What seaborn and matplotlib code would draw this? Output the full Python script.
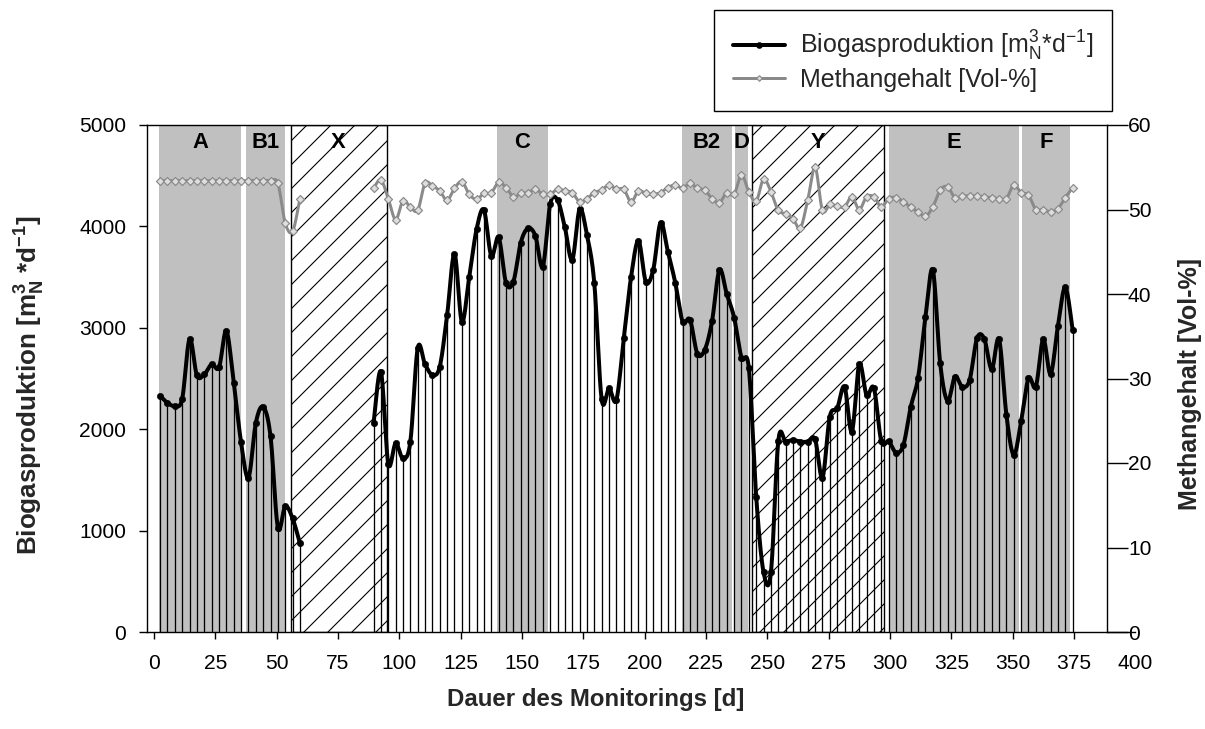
import numpy as np
import pandas as pd
import matplotlib
matplotlib.use("Agg")
import matplotlib.pyplot as plt
import matplotlib.transforms as mtransforms
from matplotlib.lines import Line2D
import seaborn as sns

# ---------------- data ----------------
# segment 1 (before interruption X)
days_1 = [2.5, 5.5, 8.5, 11.5, 14.5, 17.5, 20.5, 23.5, 26.5, 29.5,
          32.5, 35.5, 38.5, 41.5, 44.5, 47.5, 50.5, 53.5, 56.5, 59.5]
biogas_1 = [2330, 2260, 2230, 2300, 2890, 2530, 2540, 2640, 2610, 2970,
            2460, 1870, 1520, 2060, 2220, 1930, 1030, 1240, 1120, 875]
methane_1 = [53.4, 53.4, 53.4, 53.4, 53.4, 53.4, 53.4, 53.4, 53.4, 53.4,
             53.4, 53.4, 53.4, 53.4, 53.4, 53.4, 53.1, 48.4, 47.4, 51.3]

# segment 2 (after interruption X)
days_2 = [89.5, 92.5, 95.5, 98.5, 101.5, 104.5, 107.5, 110.5, 113.5, 116.5,
          119.5, 122.5, 125.5, 128.5, 131.5, 134.5, 137.5, 140.5, 143.5, 146.5,
          149.5, 152.5, 155.5, 158.5, 161.5, 164.5, 167.5, 170.5, 173.5, 176.5,
          179.5, 182.5, 185.5, 188.5, 191.5, 194.5, 197.5, 200.5, 203.5, 206.5,
          209.5, 212.5, 215.5, 218.5, 221.5, 224.5, 227.5, 230.5, 233.5, 236.5,
          239.5, 242.5, 245.5, 248.5, 251.5, 254.5, 257.5, 260.5, 263.5, 266.5,
          269.5, 272.5, 275.5, 278.5, 281.5, 284.5, 287.5, 290.5, 293.5, 296.5,
          299.5, 302.5, 305.5, 308.5, 311.5, 314.5, 317.5, 320.5, 323.5, 326.5,
          329.5, 332.5, 335.5, 338.5, 341.5, 344.5, 347.5, 350.5, 353.5, 356.5,
          359.5, 362.5, 365.5, 368.5, 371.5, 374.5]
biogas_2 = [2058, 2567, 1660, 1861, 1713, 1877, 2798, 2640, 2535, 2617,
            3126, 3728, 3061, 3498, 3971, 4162, 3708, 3893, 3445, 3455,
            3839, 3981, 3905, 3603, 4220, 4260, 3991, 3669, 4169, 3915,
            3439, 2295, 2403, 2288, 2896, 3504, 3859, 3455, 3570, 4036,
            3750, 3445, 3061, 3080, 2745, 2781, 3067, 3570, 3333, 3100,
            2705, 2600, 1334, 589, 589, 1884, 1877, 1893, 1877, 1877,
            1900, 1522, 2124, 2206, 2419, 1975, 2640, 2337, 2403, 1880,
            1880, 1770, 1844, 2220, 2508, 3110, 3570, 2650, 2278, 2518,
            2419, 2485, 2896, 2890, 2591, 2887, 2140, 1746, 2081, 2502,
            2419, 2887, 2544, 3018, 3400, 2978]
methane_2 = [52.5, 53.5, 51.3, 48.8, 51.0, 50.3, 49.9, 53.1, 52.8, 52.2,
             51.1, 52.5, 53.3, 51.8, 51.2, 51.9, 52.0, 53.2, 52.6, 51.5,
             51.9, 52.0, 52.4, 51.8, 51.8, 52.4, 52.2, 52.0, 50.9, 51.3,
             52.0, 52.3, 52.9, 52.4, 52.4, 50.9, 52.2, 51.9, 51.8, 52.0,
             52.6, 52.9, 52.5, 53.1, 52.5, 52.3, 51.3, 50.8, 52.0, 51.8,
             54.1, 52.1, 51.0, 53.6, 52.1, 49.9, 49.5, 48.9, 47.8, 51.1,
             55.0, 49.9, 50.6, 50.4, 50.3, 51.5, 50.0, 51.5, 51.5, 50.3,
             51.3, 51.4, 50.9, 50.3, 49.7, 49.2, 50.3, 52.3, 52.7, 51.4,
             51.6, 51.6, 51.6, 51.5, 51.4, 51.3, 51.3, 52.9, 52.0, 51.7,
             50.0, 50.0, 49.7, 50.1, 51.4, 52.6]

# phases (start day, end day)
gray_labels = ["A", "B1", "C", "B2", "D", "E", "F"]
gray_start = [2.0, 37.5, 139.7, 215.1, 236.9, 299.8, 353.7]
gray_end = [35.5, 53.5, 160.7, 235.5, 242.3, 352.6, 373.4]
hatch_labels = ["X", "Y"]
hatch_start = [55.7, 243.7]
hatch_end = [94.8, 297.6]

x_ticks = [0, 25, 50, 75, 100, 125, 150, 175, 200, 225, 250, 275, 300, 325, 350, 375, 400]
y_ticks_left = [0, 1000, 2000, 3000, 4000, 5000]
y_ticks_right = [0, 10, 20, 30, 40, 50, 60]

label_bio = "Biogasproduktion [m$^{3}_{N}$*d$^{-1}$]"
label_ch4 = "Methangehalt [Vol-%]"


def bezier_smooth(xs, ys, n=18):
    """Excel-like smoothed line (cubic Bezier through all points)."""
    P = np.column_stack([np.asarray(xs, float), np.asarray(ys, float)])
    Pe = np.vstack([P[0], P, P[-1]])
    t = np.linspace(0, 1, n)[:, None]
    out = []
    for i in range(len(P) - 1):
        p0, p1, p2, p3 = Pe[i], Pe[i + 1], Pe[i + 2], Pe[i + 3]
        c1 = p1 + (p2 - p0) / 6.0
        c2 = p2 - (p3 - p1) / 6.0
        seg = ((1 - t) ** 3) * p1 + 3 * ((1 - t) ** 2) * t * c1 + 3 * (1 - t) * t ** 2 * c2 + t ** 3 * p2
        out.append(seg if i == 0 else seg[1:])
    a = np.vstack(out)
    return a[:, 0], a[:, 1]


# ---------------- style ----------------
sns.set_theme(style="ticks")
plt.rcParams["font.family"] = ["Liberation Sans", "DejaVu Sans"]
plt.rcParams["mathtext.fontset"] = "custom"
plt.rcParams["mathtext.rm"] = "Liberation Sans"
plt.rcParams["mathtext.it"] = "Liberation Sans:italic"
plt.rcParams["mathtext.bf"] = "Liberation Sans:bold"
plt.rcParams["mathtext.default"] = "regular"
plt.rcParams["hatch.linewidth"] = 0.55
plt.rcParams["axes.unicode_minus"] = False

DPI = 144
W, H = 1205, 729
fig = plt.figure(figsize=(W / DPI, H / DPI), dpi=DPI)
fig.patch.set_facecolor("white")

x0_px, x1_px = 147, 1135.2
y_top_px, y_bot_px = 125, 632
ax = fig.add_axes([x0_px / W, (H - y_bot_px) / H, (x1_px - x0_px) / W, (y_bot_px - y_top_px) / H])
XMIN, XMAX, XR = -2.85, 400, 388.5
ax.set_xlim(XMIN, XMAX)
ax.set_ylim(0, 5000)

GRAY = "#c0c0c0"
LINEGRAY = "#8a8a8a"
TICK_FS = 10.5

# phase shading
for s, e in zip(gray_start, gray_end):
    ax.axvspan(s, e, facecolor=GRAY, edgecolor="none", lw=0, zorder=0.5)
for s, e in zip(hatch_start, hatch_end):
    ax.axvspan(s, e, facecolor="white", edgecolor="black", hatch="//", lw=0.7, zorder=0.6)

# drop lines + biogas curve
for d, v in ((days_1, biogas_1), (days_2, biogas_2)):
    ax.vlines(d, 0, v, colors="black", lw=0.65, zorder=2)
    sx, sy = bezier_smooth(d, v)
    sns.lineplot(x=sx, y=sy, ax=ax, sort=False, estimator=None, color="black", lw=2.0, zorder=4)
    sns.scatterplot(x=d, y=v, ax=ax, color="black", s=10, edgecolor="black", linewidth=0.3, zorder=5)

ax.set_xticks(x_ticks)
ax.set_yticks(y_ticks_left)
ax.tick_params(axis="x", direction="out", length=3.5, width=0.7, pad=7.5, labelsize=TICK_FS, colors="black")
ax.tick_params(axis="y", direction="out", length=4, width=0.7, pad=6.5, labelsize=TICK_FS, colors="black")
for sp in ["left", "bottom", "top"]:
    ax.spines[sp].set_linewidth(0.7)
    ax.spines[sp].set_color("black")
ax.spines["right"].set_visible(False)
ax.spines["top"].set_visible(True)
ax.spines["top"].set_bounds(XMIN, XR)
ax.xaxis.get_major_ticks()[-1].tick1line.set_visible(False)

ax.set_xlabel("Dauer des Monitorings [d]", fontsize=12, fontweight="bold")
ax.xaxis.set_label_coords(0.454, -0.110)
ax.set_ylabel(r"Biogasproduktion [m$^\mathbf{3}_\mathbf{N}$ *d$^\mathbf{-1}$]", fontsize=13, fontweight="bold")
ax.yaxis.set_label_coords(-0.101, 0.487)

# ---------------- methane (right axis) ----------------
ax2 = ax.twinx()
ax2.set_ylim(0, 60)
for d, v in ((days_1, methane_1), (days_2, methane_2)):
    sx, sy = bezier_smooth(d, v)
    sns.lineplot(x=sx, y=sy, ax=ax2, sort=False, estimator=None, color=LINEGRAY, lw=1.5, zorder=4)
    sns.scatterplot(x=d, y=v, ax=ax2, marker="D", color="#dedede", s=8, edgecolor=LINEGRAY,
                    linewidth=0.6, zorder=5)
ax2.set_yticks(y_ticks_right)
ax2.tick_params(axis="y", direction="out", length=3.5, width=0.7, pad=7, labelsize=TICK_FS, colors="black")
for sp in ["left", "bottom", "top"]:
    ax2.spines[sp].set_visible(False)
ax2.spines["right"].set_position(("axes", (1107 - x0_px) / (x1_px - x0_px)))
ax2.spines["right"].set_linewidth(0.7)
ax2.spines["right"].set_color("black")
for tk in ax2.yaxis.get_major_ticks():
    if tk.get_loc() in (0, 60):
        tk.tick2line.set_markersize(10.5)
ax2.set_ylabel(label_ch4, fontsize=12.5, fontweight="bold")
ax2.yaxis.set_label_coords(1.043, 0.49)

# phase labels
trans = mtransforms.blended_transform_factory(ax.transData, ax.transAxes)
for lab, s, e in list(zip(gray_labels, gray_start, gray_end)) + list(zip(hatch_labels, hatch_start, hatch_end)):
    ax2.text((s + e) / 2, 0.9645, lab, transform=trans, ha="center", va="center",
             fontsize=11, fontweight="bold", color="black", zorder=6)

# legend
handles = [Line2D([], [], color="black", lw=2.0, marker="o", markersize=2.3),
           Line2D([], [], color=LINEGRAY, lw=1.5, marker="D", markersize=2.0,
                  markerfacecolor="#dedede", markeredgecolor=LINEGRAY, markeredgewidth=0.6)]
leg = fig.legend(handles, [label_bio, label_ch4], loc="upper left",
                 bbox_to_anchor=(714 / W, 1 - 10 / H), bbox_transform=fig.transFigure,
                 frameon=True, fancybox=False, framealpha=1, edgecolor="black",
                 fontsize=12.5, borderaxespad=0, borderpad=0.75, handlelength=2.1,
                 handletextpad=0.6, labelspacing=0.2)
leg.get_frame().set_linewidth(0.7)

fig.savefig("out.png", dpi=DPI, facecolor="white")
